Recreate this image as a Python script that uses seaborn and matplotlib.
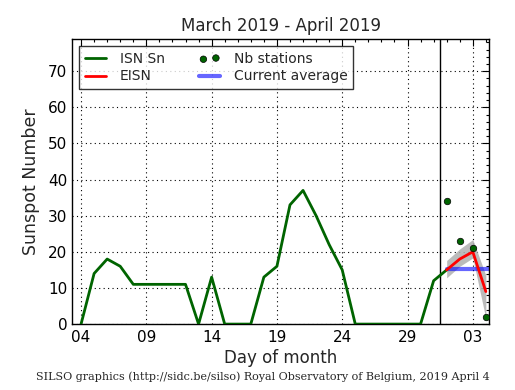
import numpy as np
import pandas as pd
import matplotlib
matplotlib.use("Agg")
import matplotlib.pyplot as plt
from matplotlib.ticker import MultipleLocator, FixedLocator
import seaborn as sns

sns.set_theme(style="white")
plt.rcParams['font.family'] = ['DejaVu Sans']

# day offsets from 2019-03-04
isn_days = list(range(0, 29))
isn_values = [0, 14, 18, 16, 11, 11, 11, 11, 11, 0, 13, 0, 0, 0, 13, 16, 33, 37,
              30, 22, 15, 0, 0, 0, 0, 0, 0, 12, 15]

eisn_days = [28, 29, 30, 31]
eisn_values = [15, 18, 20, 9]
eisn_low = [12.8, 16, 18.3, 1.5]
eisn_high = [17.6, 20.8, 23.4, 13.5]

station_days = [28, 29, 30, 31]
station_values = [34, 23, 21, 2]

avg_days = [28, 32]
avg_values = [15.2, 15.2]

tick_days = [0, 5, 10, 15, 20, 25, 30]
tick_labels = ["04", "09", "14", "19", "24", "29", "03"]
month_split = 27.5

isn_df = pd.DataFrame({"day": isn_days, "value": isn_values})
eisn_df = pd.DataFrame({"day": eisn_days, "value": eisn_values})
st_df = pd.DataFrame({"day": station_days, "value": station_values})
avg_df = pd.DataFrame({"day": avg_days, "value": avg_values})

fig = plt.figure(figsize=(5.15, 3.9), dpi=100)
ax = fig.add_axes([0.1404, 0.169, 0.8096, 0.730])

ax.fill_between(eisn_days, eisn_low, eisn_high, color="#b0b0b0", alpha=0.85, lw=0, zorder=1)
sns.lineplot(data=isn_df, x="day", y="value", color="#006400", lw=2, ax=ax, label="ISN Sn", zorder=3)
sns.lineplot(data=eisn_df, x="day", y="value", color="red", lw=2, ax=ax, label="EISN", zorder=4)
sns.scatterplot(data=st_df, x="day", y="value", color="#006400", edgecolor="black", linewidth=0.5,
                s=22, ax=ax, label="Nb stations", zorder=5)
sns.lineplot(data=avg_df, x="day", y="value", color="blue", alpha=0.6, lw=3, ax=ax,
             label="Current average", zorder=2)
ax.axvline(month_split, color="black", lw=1, zorder=2)

ax.set_xlim(-0.67, 31.26)
ax.set_ylim(0, 78.8)
ax.xaxis.set_major_locator(FixedLocator(tick_days))
ax.set_xticklabels(tick_labels)
ax.xaxis.set_minor_locator(MultipleLocator(1))
ax.yaxis.set_major_locator(MultipleLocator(10))
ax.yaxis.set_minor_locator(MultipleLocator(2))
ax.tick_params(which="both", direction="in", top=True, right=True, colors="black", labelsize=11)
ax.tick_params(which="major", length=5, width=0.8)
ax.tick_params(which="minor", length=2.5, width=0.8)
ax.tick_params(axis="x", pad=4)
ax.grid(True, which="major", color="black", linestyle=(0, (1, 3)), lw=0.8)
for s in ax.spines.values():
    s.set_color("black")
    s.set_linewidth(1)

ax.set_title("March 2019 - April 2019", fontsize=12, pad=6)
ax.set_xlabel("Day of month", fontsize=12, labelpad=3)
ax.set_ylabel("Sunspot Number", fontsize=12.5, labelpad=6)

h, l = ax.get_legend_handles_labels()
leg = ax.legend(h, l, loc="upper left",
                ncol=2, fontsize=10, frameon=True, fancybox=False, edgecolor="black",
                borderpad=0.4, labelspacing=0.25, handlelength=1.5, handletextpad=1.0,
                columnspacing=2.5, scatterpoints=2, borderaxespad=0.5)
leg.get_frame().set_linewidth(1)

fig.text(0.51, 0.025, "SILSO graphics (http://sidc.be/silso) Royal Observatory of Belgium, 2019 April 4",
         ha="center", fontsize=8, family="DejaVu Serif")

fig.savefig("out.png", dpi=100)
